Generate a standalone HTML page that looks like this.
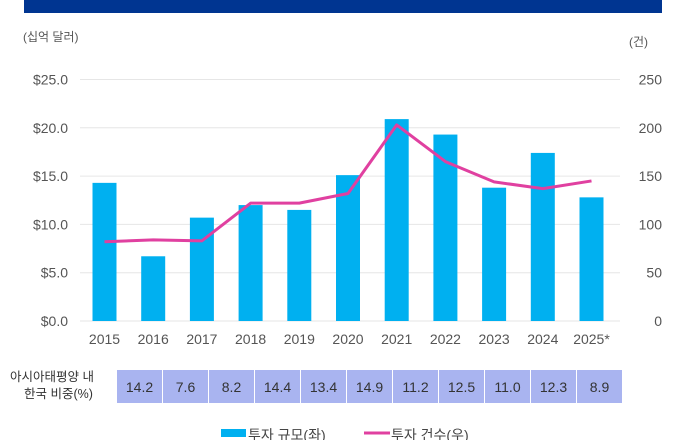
<!DOCTYPE html>
<html><head><meta charset="utf-8"><style>
body{margin:0;background:#fff;width:686px;height:440px;overflow:hidden;font-family:"Liberation Sans","Noto Sans CJK KR",sans-serif;}
svg{display:block}
</style></head><body>
<svg width="686" height="440" id="c">
<rect x="24" y="0" width="638" height="13" fill="#003591"/>
<text x="23" y="41" font-size="12" fill="#555">(십억 달러)</text>
<text x="648" y="46" font-size="12" fill="#555" text-anchor="end">(건)</text>
<text x="10" y="381" font-size="12.5" fill="#333">아시아태평양 내</text>
<text x="24" y="398" font-size="12.5" fill="#333">한국 비중(%)</text>
<g id="plot"></g>
<g>
<rect x="221" y="429" width="25" height="8" fill="#00b0f0"/>
<text x="248" y="440" font-size="14" fill="#444">투자 규모(좌)</text>
<line x1="364" y1="433" x2="390" y2="433" stroke="#e040a0" stroke-width="3"/>
<text x="391" y="440" font-size="14" fill="#444">투자 건수(우)</text>
</g>
</svg>
<script>
const years=["2015","2016","2017","2018","2019","2020","2021","2022","2023","2024","2025*"];
const investment=[14.3,6.7,10.7,12.0,11.5,15.1,20.9,19.3,13.8,17.4,12.8];
const deals=[82,84,83,122,122,132,203,165,144,137,145];
const shares=["14.2","7.6","8.2","14.4","13.4","14.9","11.2","12.5","11.0","12.3","8.9"];
const leftTicks=[0,5,10,15,20,25];
const rightTicks=[0,50,100,150,200,250];
const NS="http://www.w3.org/2000/svg";
const g=document.getElementById('plot');
const y0=321,yTop=79.5,x0=104.5,step=48.7;
const yL=v=>y0-(y0-yTop)*v/25;
const yR=v=>y0-(y0-yTop)*v/250;
const xC=i=>x0+i*step;
function mk(t,a){const e=document.createElementNS(NS,t);for(const k in a)e.setAttribute(k,a[k]);g.appendChild(e);return e;}
leftTicks.forEach((v,i)=>{
 const l=mk('line',{x1:80,x2:620,y1:yL(v),y2:yL(v),stroke:'#e6e6e6','stroke-width':1});
 
 
 const t=mk('text',{x:68,y:yL(v)+5,'font-size':14,fill:'#555','text-anchor':'end'});
 t.textContent='$'+v.toFixed(1);
 
 
});
rightTicks.forEach(v=>{
 const t=mk('text',{x:662,y:yR(v)+5,'font-size':14,fill:'#555','text-anchor':'end'});
 t.textContent=v;
 
 
});
years.forEach((yr,i)=>{
 const b=mk('rect',{x:xC(i)-12,y:yL(investment[i]),width:24,height:y0-yL(investment[i]),fill:'#00b0f0'});
 
 
 const t=mk('text',{x:xC(i),y:344,'font-size':14,fill:'#555','text-anchor':'middle'});
 t.textContent=yr;
 
 
 const cx=117+i*46;
 const c=mk('rect',{x:cx,y:370,width:45,height:33,fill:'#a9b4f0'});
 
 
 const ct=mk('text',{x:cx+22.5,y:392,'font-size':14,fill:'#333','text-anchor':'middle'});
 ct.textContent=shares[i];
 
 
});
const pl=mk('polyline',{points:deals.map((d,i)=>xC(i)+','+yR(d)).join(' '),fill:'none',stroke:'#e040a0','stroke-width':3,'stroke-linejoin':'round'});


</script>
</body></html>
